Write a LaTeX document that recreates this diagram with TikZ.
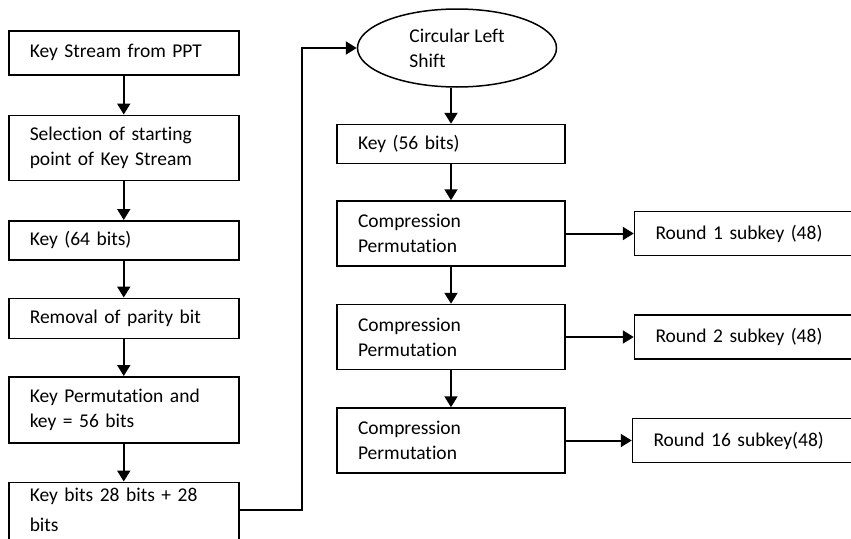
\documentclass[tikz,border=0pt]{standalone}
\usepackage{fontspec}
\setmainfont{Carlito}[Ligatures={NoCommon}]
\usetikzlibrary{arrows.meta, positioning, shapes.geometric}
\tikzset{
  every picture/.style={font=\fontsize{19.5}{25}\selectfont, line width=1.5pt},
  box/.style={draw=black, rectangle, text width=#1, align=left, inner xsep=21pt, inner ysep=4pt},
  box/.default=188pt,
  oval/.style={draw=black, ellipse, align=left, inner sep=0pt},
  arrow/.style={-{Triangle[length=11pt, width=13pt]}, draw=black, line width=2pt},
}

\begin{document}
\begin{tikzpicture}[x=1pt, y=-1pt]
  \clip (0,0) rectangle (851,538);
  % left column
  \node[box, minimum height=44pt, anchor=north west] (ks) at (8,30) {Key Stream from PPT};
  \node[box, minimum height=65pt, below=39pt of ks] (sel) {Selection of starting\\point of Key Stream};
  \node[box, minimum height=39pt, below=39pt of sel] (k64) {Key (64 bits)};
  \node[box, minimum height=40pt, below=37pt of k64] (par) {Removal of parity bit};
  \node[box, minimum height=66pt, below=37pt of par] (kp) {Key Permutation and\\key = 56 bits};
  \node[box, inner ysep=6pt, below=38pt of kp] (kb) {Key bits 28 bits + 28\\[5pt]bits\rule[-12pt]{0pt}{12pt}};
  \draw[arrow] (ks) -- (sel);
  \draw[arrow] (sel) -- (k64);
  \draw[arrow] (k64) -- (par);
  \draw[arrow] (par) -- (kp);
  \draw[arrow] (kp) -- (kb);
  % right column
  \node[oval, minimum width=199pt, minimum height=78pt] (cls) at (457,48) {Circular Left\\Shift};
  \node[box=186pt, minimum height=39pt, below=36pt of cls, xshift=-6pt] (k56) {Key (56 bits)};
  \node[box=186pt, minimum height=65pt, below=36pt of k56] (cp1) {Compression\\Permutation};
  \node[box=186pt, minimum height=65pt, below=37pt of cp1] (cp2) {Compression\\Permutation};
  \node[box=186pt, minimum height=65pt, below=37pt of cp2] (cp3) {Compression\\Permutation};
  \draw[arrow] ([yshift=6pt]kb.east) -- ++(62,0) |- (cls.west);
  \draw[arrow] (cls.south -| k56) -- (k56);
  \draw[arrow] (k56) -- (cp1);
  \draw[arrow] (cp1) -- (cp2);
  \draw[arrow] (cp2) -- (cp3);
  % subkeys
  \node[box=198pt, minimum height=44pt, right=68pt of cp1] (r1) {Round 1 subkey (48)};
  \node[box=198pt, minimum height=44pt, right=68pt of cp2] (r2) {Round 2 subkey (48)};
  \node[box=198pt, minimum height=44pt, right=66pt of cp3] (r16) {Round 16 subkey(48)};
  \draw[arrow] (cp1) -- (r1);
  \draw[arrow] (cp2) -- (r2);
  \draw[arrow] (cp3) -- (r16);
\end{tikzpicture}
\end{document}
